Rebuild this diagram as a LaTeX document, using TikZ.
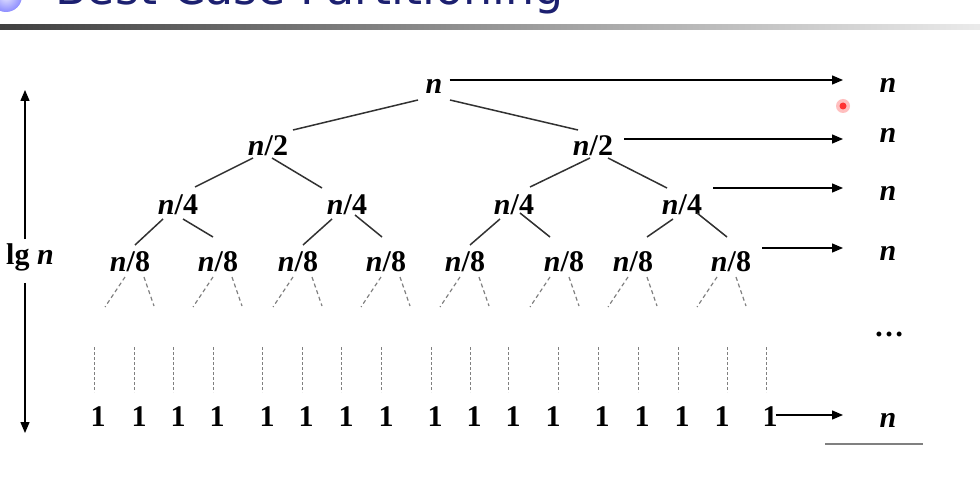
\documentclass[tikz,border=0pt]{standalone}
\usepackage{fontspec}
\setmainfont{Liberation Serif}
\newfontfamily\titlefont{DejaVu Sans}
\usetikzlibrary{arrows.meta,calc}
\definecolor{titleblue}{RGB}{28,32,112}
\definecolor{edgegray}{RGB}{50,50,50}
\begin{document}
\begin{tikzpicture}[x=1pt,y=-1pt,
  lbl/.style={font=\fontsize{30}{30}\selectfont\bfseries, inner sep=0pt},
  edge/.style={edgegray, line width=1.5pt},
  dsh/.style={gray, line width=1.2pt, dash pattern=on 4pt off 3pt},
  vd/.style={gray, line width=1pt, dash pattern=on 3pt off 2pt},
  arr/.style={black, line width=1.3pt, -{Triangle[length=11pt,width=9pt]}},
]
\useasboundingbox (0,0) rectangle (980,478);
\fill[white] (0,0) rectangle (980,478);
% title (cut off at the top)
\begin{scope}
  \clip (0,0) rectangle (980,18);
  \shade[inner color=blue!10, outer color=blue!45] (6,-4) circle (16);
  \node[anchor=base west, inner sep=0pt, text=titleblue,
        font=\titlefont\fontsize{46}{46}\selectfont] (title) at (55,5) {Best-Case Partitioning};
\end{scope}
\shade[left color=black!75, right color=black!8] (0,25) rectangle (980,30);

% tree labels
\node[lbl] (r) at (434,86) {\textit{n}};
\node[lbl] (a1) at (268,146) {\textit{n}/2};
\node[lbl] (a2) at (593,146) {\textit{n}/2};
\node[lbl] (b1) at (178,205) {\textit{n}/4};
\node[lbl] (b2) at (347,205) {\textit{n}/4};
\node[lbl] (b3) at (514,205) {\textit{n}/4};
\node[lbl] (b4) at (682,205) {\textit{n}/4};
\foreach \i/\x in {1/130,2/218,3/298,4/386,5/465,6/564,7/633,8/731}
  \node[lbl] (c\i) at (\x,262) {\textit{n}/8};

% tree edges
\draw[edge] ($(r)+(-16,14)$) -- ($(a1)+(25,-16)$);
\draw[edge] ($(r)+(16,14)$) -- ($(a2)+(-15,-16)$);
\draw[edge] ($(a1)+(-15,12)$) -- ($(b1)+(17,-18)$);
\draw[edge] ($(a1)+(4,12)$) -- ($(b2)+(-25,-17)$);
\draw[edge] ($(a2)+(-3,12)$) -- ($(b3)+(16,-18)$);
\draw[edge] ($(a2)+(15,12)$) -- ($(b4)+(-15,-17)$);
\draw[edge] ($(b1)+(-15,14)$) -- ($(c1)+(5,-17)$);
\draw[edge] ($(b1)+(5,14)$) -- ($(c2)+(-5,-25)$);
\draw[edge] ($(b2)+(-15,14)$) -- ($(c3)+(5,-17)$);
\draw[edge] ($(b2)+(8,10)$) -- ($(c4)+(-4,-25)$);
\draw[edge] ($(b3)+(-14,14)$) -- ($(c5)+(5,-17)$);
\draw[edge] ($(b3)+(6,8)$) -- ($(c6)+(-14,-25)$);
\draw[edge] ($(b4)+(-9,14)$) -- ($(c7)+(14,-25)$);
\draw[edge] ($(b4)+(15,8)$) -- ($(c8)+(-4,-25)$);

% dashed continuations
\foreach \a in {125,213,293,381,460,550,628,717} {
  \draw[dsh] (\a,277) -- (\a-20,307);
  \draw[dsh] (\a+19,277) -- (\a+29,306);
}
\foreach \x in {94,134,173,213,262,302,341,381,431,470,508,558,598,638,678,727,766}
  \draw[vd] (\x,347) -- (\x,392);

% leaves
\foreach \i/\x in {1/98,2/139,3/178,4/217,5/267,6/306,7/346,8/386,9/435,10/474,11/513,12/553,13/602,14/642,15/682,16/722,17/770}
  \node[lbl] (d\i) at (\x,417) {1};

% right column
\node[lbl] (s0) at (888,85) {\textit{n}};
\node[lbl] (s1) at (888,135) {\textit{n}};
\node[lbl] (s2) at (888,193) {\textit{n}};
\node[lbl] (s3) at (888,253) {\textit{n}};
\node[lbl] (dots) at (889,334) {\ldots};
\node[lbl] (s4) at (888,420) {\textit{n}};
\draw[gray, line width=2pt] (825,444) -- (923,444);

\coordinate (e0) at (843,80);
\coordinate (e1) at (843,139);
\coordinate (e2) at (843,188);
\coordinate (e3) at (843,248);
\coordinate (e4) at (843,415);
\draw[arr] (r.east |- e0) ++(7,0) -- (e0);
\draw[arr] (a2.east |- e1) ++(11,0) -- (e1);
\draw[arr] (b4.east |- e2) ++(11,0) -- (e2);
\draw[arr] (c8.east |- e3) ++(11,0) -- (e3);
\draw[arr] (d17.east |- e4) ++(-2,0) -- (e4);

% left axis
\node[lbl] (lg) at (30,257) {lg \textit{n}};
\coordinate (up) at (25,90);
\coordinate (dn) at (25,433);
\draw[arr] (up |- lg.north) ++(0,-4) -- (up);
\draw[arr] (dn |- lg.south) ++(0,12) -- (dn);

% pointer dot
\fill[red!25] (843,106) circle (7);
\fill[red!80] (843,106) circle (3.5);
\end{tikzpicture}
\end{document}
